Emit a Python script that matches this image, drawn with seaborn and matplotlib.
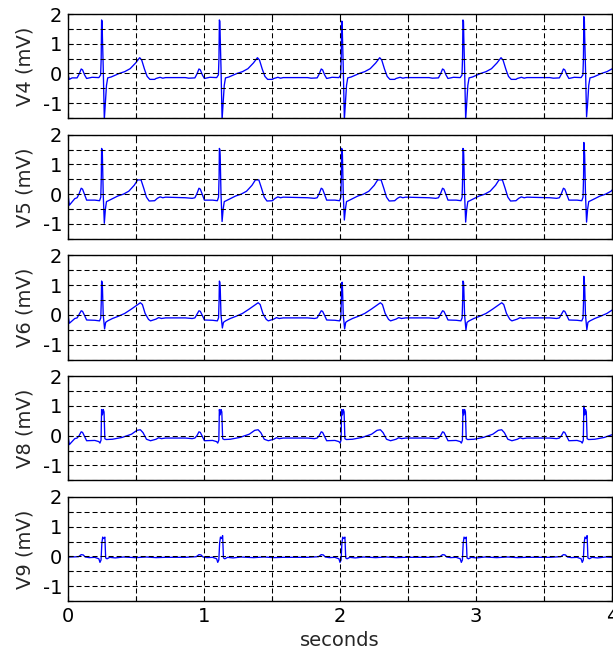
import numpy as np
import pandas as pd
import matplotlib
matplotlib.use("Agg")
import matplotlib.pyplot as plt
import seaborn as sns

# R-peak times of the five beats (seconds)
beat_times = [0.247, 1.113, 2.012, 2.904, 3.793]

# ---- V4 ----
v4_lead_in_t = [0.0, 0.01, 0.03]
v4_lead_in_v = [-0.05, -0.2, -0.15]
v4_offsets = [-0.25, -0.225, -0.18, -0.165, -0.15, -0.14, -0.125, -0.11, -0.07, -0.02,
              -0.007, -0.003, 0.0, 0.004, 0.006, 0.012, 0.02, 0.028, 0.036, 0.045,
              0.07, 0.10, 0.13, 0.17, 0.21, 0.25, 0.28, 0.295, 0.315, 0.335, 0.355,
              0.39, 0.40, 0.43, 0.45, 0.47]
v4_shape = [-0.14, -0.16, -0.15, -0.02, 0.15, 0.12, -0.05, -0.17, -0.13, -0.14,
            -0.05, 0.5, 1.80, 1.75, 1.25, 0.2, -1.55, -1.0, -0.4, -0.15,
            -0.12, -0.06, 0.0, 0.06, 0.16, 0.35, 0.53, 0.45, 0.15, -0.1, -0.2,
            -0.2, -0.17, -0.13, -0.16, -0.14]
v4_r_peaks = [1.80, 1.80, 1.76, 1.80, 1.91]
v4_s_troughs = [-1.55, -1.55, -1.55, -1.55, -1.46]

# ---- V5 ----
v5_lead_in_t = [0.0, 0.01, 0.05]
v5_lead_in_v = [0.0, -0.37, -0.15]
v5_offsets = [-0.25, -0.2, -0.18, -0.165, -0.15, -0.14, -0.125, -0.11, -0.05, -0.015, -0.006,
              -0.002, 0.0, 0.004, 0.006, 0.012, 0.02, 0.028, 0.036, 0.05, 0.08,
              0.12, 0.16, 0.2, 0.24, 0.265, 0.29, 0.31, 0.33, 0.35, 0.39, 0.41, 0.43,
              0.45, 0.47]
v5_shape = [-0.12, -0.14, -0.12, 0.02, 0.2, 0.17, -0.02, -0.2, -0.2, -0.22, -0.1,
            0.6, 1.54, 1.5, 1.3, 0.0, -0.95, -0.5, -0.25, -0.22, -0.15,
            -0.06, 0.0, 0.1, 0.3, 0.48, 0.48, 0.2, -0.1, -0.23, -0.22, -0.14, -0.09,
            -0.12, -0.1]
v5_r_peaks = [1.54, 1.54, 1.54, 1.54, 1.74]
v5_s_troughs = [-0.98, -0.92, -0.87, -0.94, -0.94]

# ---- V6 ----
v6_lead_in_t = [0.0, 0.01, 0.05]
v6_lead_in_v = [0.0, -0.28, -0.12]
v6_offsets = [-0.25, -0.2, -0.18, -0.165, -0.15, -0.14, -0.125, -0.11, -0.05, -0.015, -0.006,
              -0.002, 0.0, 0.004, 0.006, 0.012, 0.022, 0.03, 0.045, 0.08, 0.12,
              0.17, 0.22, 0.26, 0.285, 0.3, 0.32, 0.345, 0.36, 0.4, 0.42, 0.44, 0.47]
v6_shape = [-0.1, -0.12, -0.1, 0.02, 0.14, 0.12, -0.02, -0.17, -0.18, -0.2, -0.1,
            0.5, 1.14, 1.1, 0.95, 0.0, -0.47, -0.25, -0.2, -0.12, -0.05,
            0.05, 0.2, 0.33, 0.41, 0.35, 0.05, -0.15, -0.2, -0.14, -0.09, -0.12, -0.1]
v6_r_peaks = [1.14, 1.14, 1.06, 1.14, 1.30]
v6_s_troughs = [-0.47, -0.44, -0.47, -0.50, -0.50]

# ---- V8 ----
v8_lead_in_t = [0.0, 0.01, 0.05]
v8_lead_in_v = [0.0, -0.3, -0.1]
v8_offsets = [-0.25, -0.2, -0.18, -0.165, -0.15, -0.14, -0.125, -0.11, -0.05, -0.02, -0.012,
              -0.004, 0.0, 0.006, 0.012, 0.018, 0.024, 0.035, 0.08, 0.15, 0.22,
              0.26, 0.285, 0.305, 0.33, 0.36, 0.4, 0.42, 0.44, 0.47]
v8_shape = [-0.08, -0.1, -0.08, 0.0, 0.13, 0.11, -0.03, -0.17, -0.16, -0.2, -0.25,
            -0.15, 0.88, 0.7, 0.88, 0.8, -0.1, -0.13, -0.12, -0.06, 0.05,
            0.18, 0.2, 0.1, -0.12, -0.17, -0.12, -0.07, -0.1, -0.08]
v8_r_peaks = [0.88, 0.88, 0.88, 0.88, 1.00]
v8_s_troughs = None

# ---- V9 ----
v9_lead_in_t = [0.0, 0.01]
v9_lead_in_v = [0.0, -0.02]
v9_offsets = [-0.25, -0.17, -0.15, -0.135, -0.12, -0.09, -0.05, -0.02, -0.012, -0.004,
              0.002, 0.008, 0.016, 0.024, 0.03, 0.04, 0.06, 0.1, 0.16, 0.25,
              0.33, 0.4, 0.47]
v9_shape = [-0.03, -0.01, 0.06, 0.05, -0.02, -0.04, -0.03, -0.08, -0.2, -0.12,
            0.45, 0.65, 0.6, 0.66, -0.05, -0.08, -0.03, -0.05, -0.02, -0.04,
            -0.02, -0.04, -0.03]
v9_r_peaks = [0.65, 0.70, 0.65, 0.65, 0.70]
v9_s_troughs = None

lead_names = ["V4", "V5", "V6", "V8", "V9"]
lead_data = {
    "V4": (v4_lead_in_t, v4_lead_in_v, v4_offsets, v4_shape, v4_r_peaks, v4_s_troughs),
    "V5": (v5_lead_in_t, v5_lead_in_v, v5_offsets, v5_shape, v5_r_peaks, v5_s_troughs),
    "V6": (v6_lead_in_t, v6_lead_in_v, v6_offsets, v6_shape, v6_r_peaks, v6_s_troughs),
    "V8": (v8_lead_in_t, v8_lead_in_v, v8_offsets, v8_shape, v8_r_peaks, v8_s_troughs),
    "V9": (v9_lead_in_t, v9_lead_in_v, v9_offsets, v9_shape, v9_r_peaks, v9_s_troughs),
}


def build_trace(name):
    lead_t, lead_v, offsets, shape, r_peaks, s_troughs = lead_data[name]
    shape = np.asarray(shape, dtype=float)
    offsets = np.asarray(offsets, dtype=float)
    r_idx = int(np.argmax(shape))
    s_idx = int(np.argmin(shape))
    ts = list(lead_t)
    vs = list(lead_v)
    for i, bt in enumerate(beat_times):
        beat = shape.copy()
        beat[r_idx] = r_peaks[i]
        if s_troughs is not None:
            beat[s_idx] = s_troughs[i]
        t = bt + offsets
        keep = t > ts[-1]
        ts.extend(t[keep])
        vs.extend(beat[keep])
    return pd.DataFrame({"lead": name, "t": ts, "mv": vs})


df = pd.concat([build_trace(n) for n in lead_names], ignore_index=True)

sns.set_theme(style="white")
plt.rcParams["font.family"] = ["DejaVu Sans"]
plt.rcParams["axes.unicode_minus"] = False

fig, axes = plt.subplots(
    5, 1, figsize=(6.13, 6.53), dpi=100, sharex=True,
    gridspec_kw=dict(left=68 / 613, right=612 / 613,
                     top=1 - 14 / 653, bottom=1 - 601 / 653, hspace=0.161),
)

x_ticks = np.arange(0, 4.01, 0.5)
x_labels = ["0", "", "1", "", "2", "", "3", "", "4"]
y_ticks = np.arange(-1.5, 2.01, 0.5)
y_labels = ["", "-1", "", "0", "", "1", "", "2"]

for ax, name in zip(axes, lead_names):
    sub = df[df["lead"] == name]
    sns.lineplot(data=sub, x="t", y="mv", ax=ax, estimator=None, sort=False,
                 color="#0000ff", linewidth=0.95)
    ax.set_xlim(0, 4)
    ax.set_ylim(-1.5, 2)
    ax.set_yticks(y_ticks)
    ax.set_yticklabels(y_labels)
    ax.set_xticks(x_ticks)
    ax.grid(True, color="black", linestyle=(0, (4.8, 2.9)), linewidth=0.75)
    ax.set_axisbelow(False)
    ax.tick_params(direction="in", length=3.5, width=0.8, colors="black",
                   labelsize=14, pad=4, top=True, right=True,
                   bottom=True, left=True)
    for sp in ax.spines.values():
        sp.set_visible(True)
        sp.set_color("black")
        sp.set_linewidth(1.0)
    ax.set_ylabel(f"{name} (mV)", fontsize=14, labelpad=6)
    ax.set_xlabel("")

axes[-1].set_xticklabels(x_labels)
axes[-1].set_xlabel("seconds", fontsize=14, labelpad=4)
for ax in axes[:-1]:
    ax.tick_params(labelbottom=False)

fig.savefig("out.png", dpi=100, facecolor="white")
